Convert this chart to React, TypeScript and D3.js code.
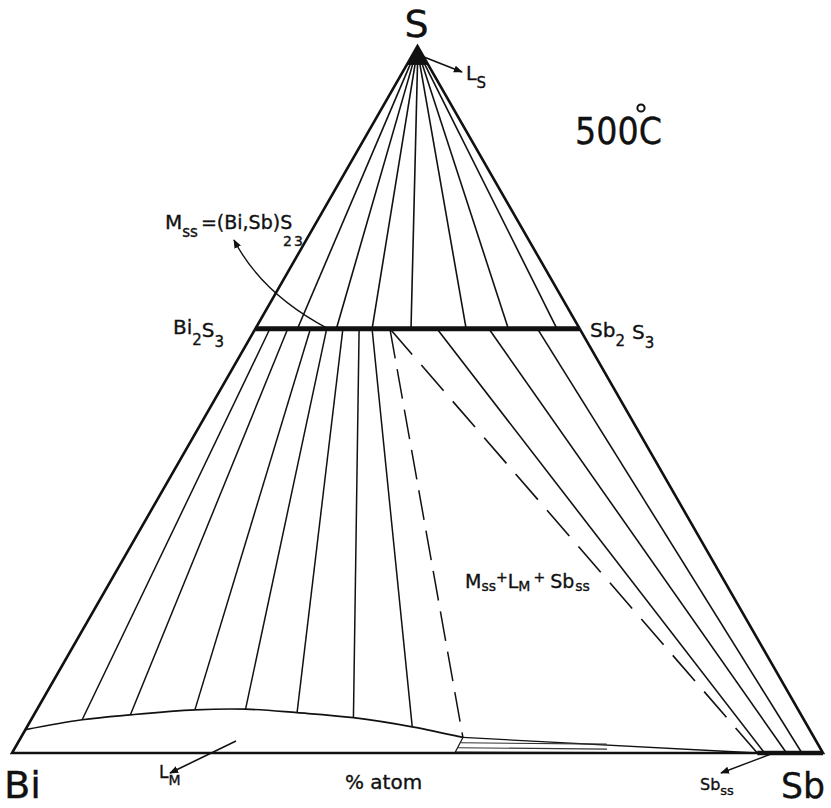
import React from "react";
import * as d3 from "d3";

// ---- Data (compositions in at.%; Mss given as mol% Sb2S3 in (Bi,Sb)2S3) ----
const cornerLabels = ["Bi", "Sb", "S"];
const temperatureLabel = "500C";
// Mss – LS tie-lines (S-rich liquid near the S corner)
const mssUpperTies = [13, 25, 36, 48, 65, 78, 93];
const lsTieSb = [0.4, 0.7, 1.0, 1.3, 1.6, 1.9, 2.2];
const lsTieS = 97.4;
const lsRegionS = 97.4;
const lsRegionSbMax = 2.6;
// LM liquid boundary (metal-rich liquid)
const lmCurveSb = [0, 6.3, 11.9, 19.5, 25.7, 32.3, 39.6, 47.5, 54.5];
const lmCurveS = [3.3, 4.7, 5.4, 6.1, 6.2, 5.7, 5.0, 3.7, 2.2];
const lmBaseSb = 54.6;
// Mss – LM tie-lines (end on LM curve points 1..7)
const mssLowerTies = [4.5, 10, 17, 22, 27, 32, 36];
// three-phase triangle Mss + LM + Sbss
const threePhaseMss = 41.5;
const threePhaseSbss = 91.9;
// Mss – Sbss tie-lines
const mssSbssTies = [56, 72, 87];
const sbssTieEnds = [92.8, 95.5, 97.4];
// LM – Sbss tie-lines near the Bi–Sb edge: [Sb0, S0, Sb1, S1]
const lmSbssTiesSb0 = [54.6, 54.6, 54.6];
const lmSbssTiesS0 = [1.45, 0.75, 0.15];
const lmSbssTiesSb1 = [72.7, 73.1, 73.4];
const lmSbssTiesS1 = [1.25, 0.55, 0.05];

// ---- Layout ----
const W = 831;
const H = 808;
const BI = { x: 12, y: 753 };
const SB = { x: 823, y: 753 };
const S = { x: 417.5, y: 46 };

const sbScale = d3.scaleLinear().domain([0, 100]).range([0, SB.x - BI.x]);
const sScaleY = d3.scaleLinear().domain([0, 100]).range([BI.y, S.y]);
const sScaleX = d3.scaleLinear().domain([0, 100]).range([0, S.x - BI.x]);

function proj(sb: number, s: number): [number, number] {
  return [BI.x + sbScale(sb) + sScaleX(s), sScaleY(s)];
}
// Mss composition on Bi2S3–Sb2S3 join: 60 at.% S
function mss(pct: number): [number, number] {
  return proj(0.4 * pct, 60);
}

const lineGen = d3.line<[number, number]>();
const curveGen = d3.line<[number, number]>().curve(d3.curveCatmullRom.alpha(0.5));

const FONT = "'DejaVu Sans', 'Liberation Sans', sans-serif";

export default function App() {
  const tri = lineGen([proj(0, 0), proj(100, 0), proj(0, 100), proj(0, 0)]) + "Z";
  const lmPts: [number, number][] = lmCurveSb.map((sb, i) => proj(sb, lmCurveS[i]));
  const lsTri = lineGen([proj(0, 100), proj(0, lsRegionS), proj(lsRegionSbMax, lsRegionS)]) + "Z";
  const mssA = mss(0);
  const mssB = mss(100);
  const tpM = mss(threePhaseMss);
  const tpL = lmPts[lmPts.length - 1];
  const tpS = proj(threePhaseSbss, 0);
  const lmBase = proj(lmBaseSb, 0);

  const mssArrowStart = mss(22.5);
  const mssArrowEnd: [number, number] = [234, 240];

  const stroke = "#111";

  return (
    <svg width={W} height={H} viewBox={`0 0 ${W} ${H}`} style={{ display: "block", position: "absolute", left: 0, top: 0, background: "#fff" }}>
      <defs>
        <marker id="arr" viewBox="0 0 10 10" refX="9" refY="5" markerWidth="9" markerHeight="9" markerUnits="userSpaceOnUse" orient="auto">
          <path d="M0,1 L10,5 L0,9 Z" fill={stroke} />
        </marker>
      </defs>
      <rect x={0} y={0} width={W} height={H} fill="#fff" />

      {/* upper tie-lines Mss – LS */}
      {mssUpperTies.map((m, i) => {
        const a = mss(m);
        const b = proj(lsTieSb[i], lsTieS);
        return <path key={"u" + i} d={lineGen([a, b]) as string} stroke={stroke} strokeWidth={1.6} fill="none" />;
      })}
      <path d={lsTri} fill={stroke} stroke={stroke} strokeWidth={1} />

      {/* lower tie-lines Mss – LM */}
      {mssLowerTies.map((m, i) => (
        <path key={"l" + i} d={lineGen([mss(m), lmPts[i + 1]]) as string} stroke={stroke} strokeWidth={1.5} fill="none" />
      ))}

      {/* tie-lines Mss – Sbss */}
      {mssSbssTies.map((m, i) => (
        <path key={"r" + i} d={lineGen([mss(m), proj(sbssTieEnds[i], 0)]) as string} stroke={stroke} strokeWidth={1.6} fill="none" />
      ))}

      {/* three-phase triangle */}
      <path d={lineGen([tpM, tpL]) as string} stroke={stroke} strokeWidth={1.5} strokeDasharray="30 11" fill="none" />
      <path d={lineGen([tpM, tpS]) as string} stroke={stroke} strokeWidth={1.6} strokeDasharray="34 14" fill="none" />
      <path d={lineGen([tpL, tpS]) as string} stroke={stroke} strokeWidth={1.3} fill="none" />

      {/* LM liquid boundary */}
      <path d={curveGen(lmPts) as string} stroke={stroke} strokeWidth={1.7} fill="none" />
      <path d={lineGen([tpL, lmBase]) as string} stroke={stroke} strokeWidth={1.2} fill="none" />
      {lmSbssTiesSb0.map((sb, i) => (
        <path key={"t" + i} d={lineGen([proj(sb, lmSbssTiesS0[i]), proj(lmSbssTiesSb1[i], lmSbssTiesS1[i])]) as string} stroke="#333" strokeWidth={1.1} fill="none" />
      ))}

      {/* triangle frame */}
      <path d={tri} stroke={stroke} strokeWidth={2.6} fill="none" strokeLinejoin="miter" />
      {/* Mss join */}
      <path d={lineGen([mssA, mssB]) as string} stroke={stroke} strokeWidth={5} fill="none" />
      {/* Sbss field */}
      <path d={lineGen([tpS, proj(100, 0)]) as string} stroke={stroke} strokeWidth={4.5} fill="none" />

      {/* arrows */}
      <path d={`M${mssArrowStart[0]},${mssArrowStart[1]} Q262,294 ${mssArrowEnd[0]},${mssArrowEnd[1]}`} stroke={stroke} strokeWidth={1.4} fill="none" markerEnd="url(#arr)" />
      <path d="M424,57 L462,72" stroke={stroke} strokeWidth={1.6} fill="none" markerEnd="url(#arr)" />
      <path d="M236,741 L170,773" stroke={stroke} strokeWidth={1.6} fill="none" markerEnd="url(#arr)" />
      <path d="M771,754 L721,773" stroke={stroke} strokeWidth={1.4} fill="none" markerEnd="url(#arr)" />

      {/* labels */}
      <g fontFamily={FONT} fill="#111" stroke="#111" strokeWidth={0.35}>
        <text x={S.x - 1} y={37} fontSize={38} textAnchor="middle">{cornerLabels[2]}</text>
        <text x={4} y={798} fontSize={38} textLength={37} lengthAdjust="spacingAndGlyphs">{cornerLabels[0]}</text>
        <text x={781} y={798} fontSize={36} textLength={44} lengthAdjust="spacingAndGlyphs">{cornerLabels[1]}</text>

        <text x={466} y={80} fontSize={19}>L<tspan fontSize={15} dy={8}>S</tspan></text>

        <text x={575} y={144} fontSize={37} textLength={87} lengthAdjust="spacingAndGlyphs">{temperatureLabel}</text>
        <circle cx={641} cy={108} r={3.6} fill="none" stroke="#111" strokeWidth={2} />

        <text x={165} y={229} fontSize={20}>M<tspan fontSize={15} dy={8}>ss</tspan><tspan fontSize={19} dy={-8} dx={3}>=(Bi,Sb)</tspan><tspan fontSize={19}>S</tspan></text>
        <text x={283} y={246} fontSize={14}>2</text>
        <text x={294} y={246} fontSize={14}>3</text>

        <text x={173} y={334} fontSize={20}>Bi<tspan fontSize={15} dy={11}>2</tspan><tspan fontSize={20} dy={-8}>S</tspan><tspan fontSize={15} dy={10}>3</tspan></text>
        <text x={590} y={337} fontSize={20}>Sb<tspan fontSize={15} dy={9}>2</tspan><tspan fontSize={20} dy={-7} dx={7}>S</tspan><tspan fontSize={15} dy={9}>3</tspan></text>

        <text x={465} y={588} fontSize={19}>M<tspan fontSize={14} dy={3}>ss</tspan><tspan fontSize={14} dy={-9}>+</tspan><tspan fontSize={19} dy={6}>L</tspan><tspan fontSize={14} dy={3}>M</tspan><tspan fontSize={14} dy={-9} dx={3}>+</tspan><tspan fontSize={19} dy={6} dx={5}>Sb</tspan><tspan fontSize={14} dy={3} dx={1}>ss</tspan></text>

        <text x={159} y={778} fontSize={17}>L<tspan fontSize={14} dy={7}>M</tspan></text>
        <text x={345} y={789} fontSize={20}>% atom</text>
        <text x={700} y={790} fontSize={16}>Sb<tspan fontSize={13} dy={5}>ss</tspan></text>
      </g>
    </svg>
  );
}
